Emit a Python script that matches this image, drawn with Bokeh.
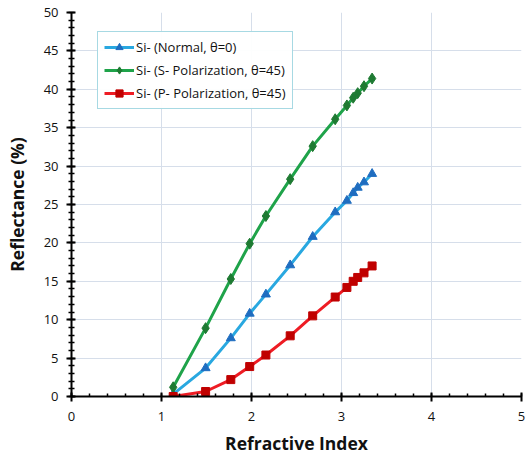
from bokeh.plotting import figure
from bokeh.models import Legend, LegendItem, Range1d, FixedTicker
from bokeh.embed import file_html
from bokeh.resources import INLINE

# Data
refr_index = [1.13, 1.49, 1.77, 1.98, 2.16, 2.43, 2.68, 2.93, 3.06, 3.13, 3.18, 3.25, 3.34]
normal = [0.3, 3.7, 7.6, 10.8, 13.3, 17.1, 20.8, 24.0, 25.5, 26.5, 27.2, 27.9, 29.0]
s_pol = [1.2, 8.9, 15.3, 19.9, 23.5, 28.3, 32.6, 36.1, 37.9, 38.9, 39.5, 40.4, 41.4]
p_pol = [0.0, 0.65, 2.2, 3.9, 5.4, 7.9, 10.5, 12.95, 14.2, 15.0, 15.5, 16.1, 17.0]
labels = ["Si- (Normal, \u03b8=0)", "Si- (S- Polarization, \u03b8=45)", "Si- (P- Polarization, \u03b8=45)"]

p = figure(width=526, height=458, output_backend="svg", toolbar_location=None,
           x_range=Range1d(0, 5), y_range=Range1d(0, 50))
p.min_border_left = 71
p.min_border_right = 5
p.min_border_top = 12
p.min_border_bottom = 62
p.outline_line_color = None
p.background_fill_color = "white"

font = "Open Sans"
p.xaxis.axis_label = "Refractive Index"
p.yaxis.axis_label = "Reflectance (%)"
for ax in (p.xaxis[0], p.yaxis[0]):
    ax.axis_label_text_font = font
    ax.axis_label_text_font_style = "bold"
    ax.axis_label_text_font_size = "17.5px"
    ax.axis_label_text_color = "#111111"
    ax.major_label_text_font = font
    ax.major_label_text_font_size = "13px"
    ax.major_label_text_color = "#111111"
    ax.axis_line_color = "black"
    ax.axis_line_width = 2
    ax.major_tick_line_color = "black"
    ax.minor_tick_line_color = "black"
    ax.major_tick_line_width = 2
    ax.minor_tick_line_width = 1.5

p.xaxis.ticker = FixedTicker(ticks=[0, 1, 2, 3, 4, 5],
                             minor_ticks=[i * 0.2 for i in range(26)])
p.yaxis.ticker = FixedTicker(ticks=list(range(0, 51, 5)), minor_ticks=list(range(0, 51)))
p.xaxis.major_tick_in = 4
p.xaxis.major_tick_out = 5
p.xaxis.minor_tick_in = 3
p.xaxis.minor_tick_out = 0
p.yaxis.major_tick_in = 4
p.yaxis.major_tick_out = 5
p.yaxis.minor_tick_in = 3
p.yaxis.minor_tick_out = 3
p.xaxis.major_label_standoff = 10
p.yaxis.major_label_standoff = 8
p.xaxis.axis_label_standoff = 7
p.yaxis.axis_label_standoff = 12

p.grid.grid_line_color = "#D6DEEA"
p.grid.grid_line_width = 1

series = [
    (normal, "#29A8E0", "#1F6DC0", "triangle", 9),
    (s_pol, "#1FA34A", "#1E7A32", "diamond", 11),
    (p_pol, "#EE1C24", "#C00000", "square", 8),
]
items = []
for (vals, lc, mc, mk, sz), lab in zip(series, labels):
    r1 = p.line(refr_index, vals, line_color=lc, line_width=3)
    r2 = p.scatter(refr_index, vals, marker=mk, size=sz, fill_color=mc, line_color=mc)
    items.append(LegendItem(label=lab, renderers=[r1, r2]))

legend = Legend(items=items, location=(26, 287))
legend.border_line_color = "#4FB3C8"
legend.border_line_width = 1.5
legend.label_text_font = font
legend.label_text_font_size = "13px"
legend.label_text_color = "#111111"
legend.glyph_width = 30
legend.glyph_height = 18
legend.spacing = 5
legend.padding = 6
legend.margin = 0
legend.label_standoff = 2
legend.label_height = 18
p.add_layout(legend, "center")

open("out.html", "w").write(file_html(p, INLINE))
